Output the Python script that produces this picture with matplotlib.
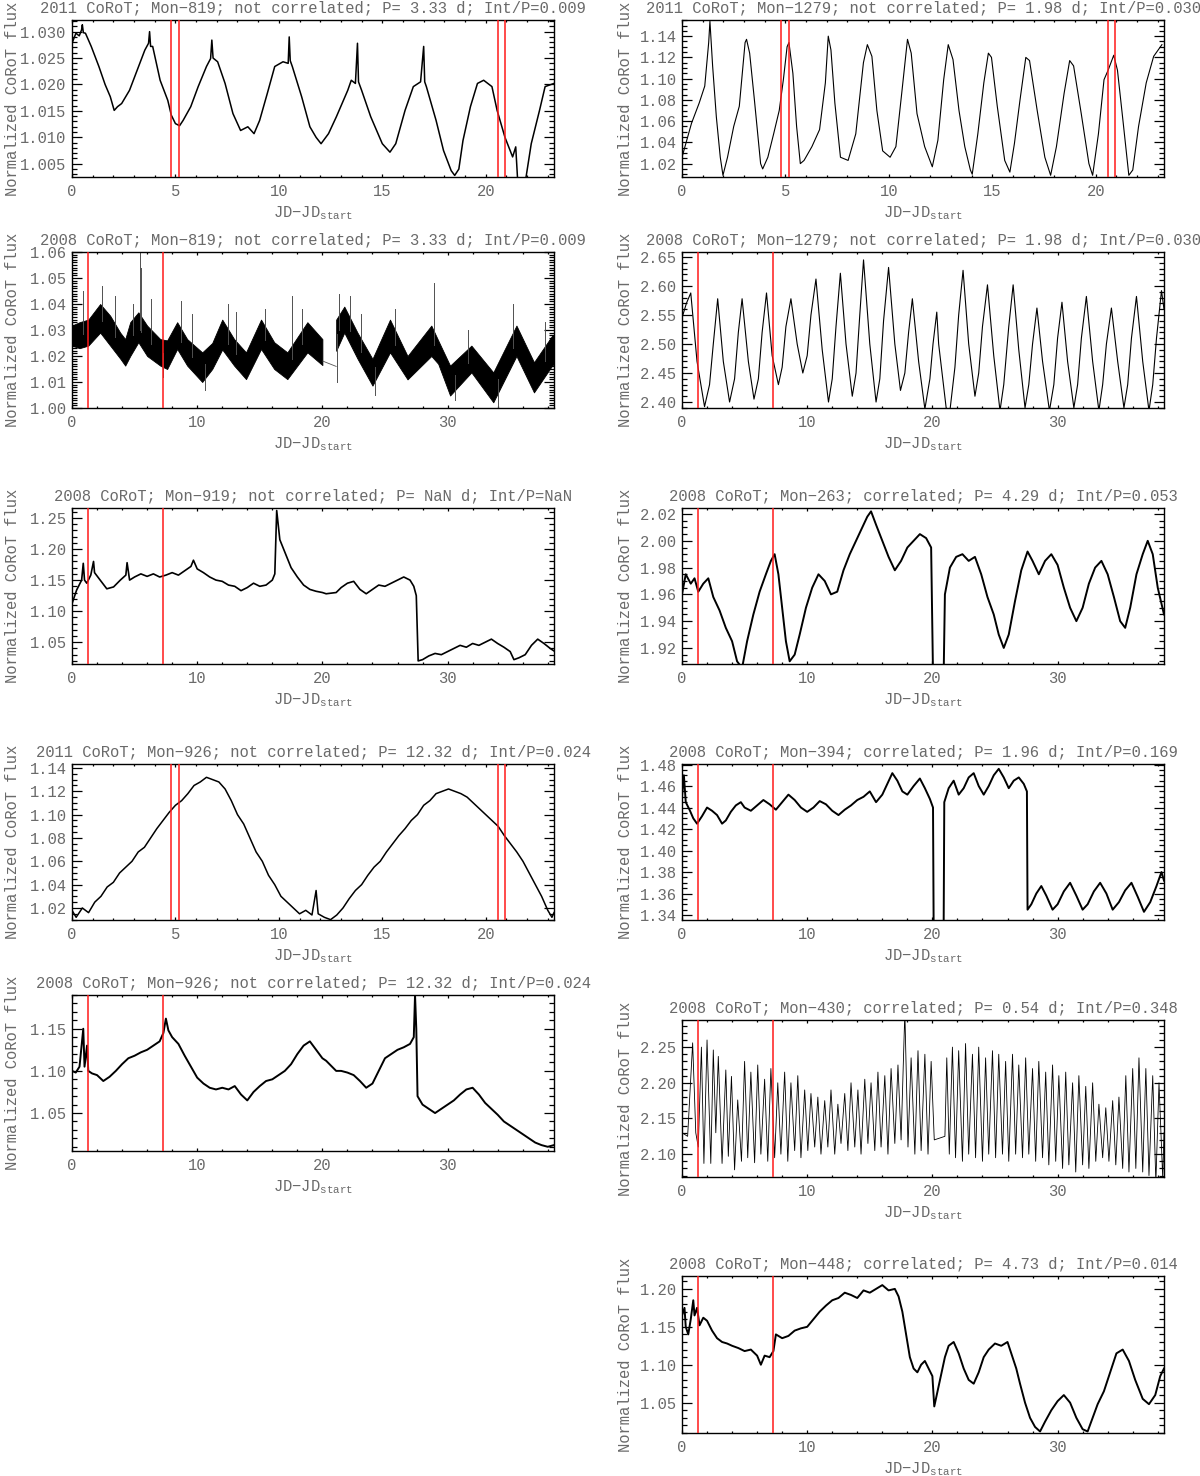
import numpy as np
import matplotlib
matplotlib.use("Agg")
import matplotlib.pyplot as plt
from matplotlib.ticker import MultipleLocator, FormatStrFormatter

FIG_W, FIG_H = 1200, 1476
TXT = '#6a6a6a'
FS = 11.2
FONT = 'Liberation Mono'

plt.rcParams['font.family'] = [FONT, 'DejaVu Sans Mono']
plt.rcParams['mathtext.fontset'] = 'custom'
plt.rcParams['mathtext.rm'] = FONT

# ---- light curves: (JD-JD_start, normalized flux) ----
L1_PTS = [(0.0, 1.0278), (0.19, 1.0297), (0.35, 1.0292), (0.46, 1.0303), (0.5, 1.0313), (0.55, 1.0298),
          (0.65, 1.0297), (0.93, 1.0272), (1.3, 1.0234), (1.6, 1.0200), (1.85, 1.0177), (2.04, 1.0151),
          (2.2, 1.0158), (2.4, 1.0164), (2.78, 1.0189), (3.15, 1.0227), (3.52, 1.0265), (3.7, 1.0278),
          (3.75, 1.0300), (3.8, 1.0272), (3.9, 1.0272), (4.26, 1.0208), (4.63, 1.0170), (4.8, 1.0142),
          (5.0, 1.0126), (5.2, 1.0122), (5.37, 1.0132), (5.74, 1.0158), (6.1, 1.0196), (6.5, 1.0234),
          (6.7, 1.0249), (6.76, 1.0284), (6.82, 1.0250), (7.04, 1.0243), (7.4, 1.0202), (7.78, 1.0145),
          (8.15, 1.0113), (8.5, 1.0120), (8.8, 1.0107), (9.07, 1.0132), (9.44, 1.0183), (9.8, 1.0234),
          (10.2, 1.0243), (10.45, 1.0240), (10.5, 1.0290), (10.55, 1.0245), (10.65, 1.0234), (11.1, 1.0177),
          (11.5, 1.0120), (11.8, 1.0100), (12.04, 1.0088), (12.4, 1.0107), (12.78, 1.0139), (13.33, 1.0189),
          (13.5, 1.0208), (13.7, 1.0202), (13.8, 1.0278), (13.85, 1.0205), (14.0, 1.0189), (14.44, 1.0139),
          (15.0, 1.0088), (15.37, 1.0072), (15.65, 1.0088), (16.1, 1.0151), (16.5, 1.0196), (16.85, 1.0205),
          (17.0, 1.0272), (17.05, 1.0205), (17.13, 1.0196), (17.6, 1.0132), (17.96, 1.0075), (18.33, 1.0037),
          (18.5, 1.0028), (18.7, 1.0040), (18.9, 1.0094), (19.26, 1.0158), (19.6, 1.0202), (19.9, 1.0208),
          (20.3, 1.0196), (20.55, 1.0151), (20.93, 1.0100), (21.3, 1.0063), (21.45, 1.0082), (21.57, 1.0000),
          (21.85, 1.0000), (22.2, 1.0088), (22.6, 1.0151), (22.87, 1.0196), (23.3, 1.0202)]

R1_PTS = [(0.0, 1.026), (0.46, 1.058), (0.83, 1.077), (1.1, 1.093), (1.29, 1.134), (1.35, 1.154),
          (1.48, 1.112), (1.66, 1.064), (1.85, 1.026), (1.98, 1.009), (2.2, 1.026), (2.5, 1.055),
          (2.77, 1.074), (3.05, 1.134), (3.12, 1.137), (3.27, 1.124), (3.5, 1.080), (3.8, 1.020),
          (3.9, 1.015), (4.15, 1.026), (4.43, 1.048), (4.7, 1.070), (4.9, 1.099), (5.08, 1.130),
          (5.17, 1.134), (5.36, 1.105), (5.54, 1.055), (5.72, 1.020), (5.9, 1.023), (6.28, 1.036),
          (6.65, 1.052), (6.93, 1.096), (7.07, 1.140), (7.2, 1.127), (7.39, 1.077), (7.66, 1.026),
          (8.03, 1.023), (8.4, 1.048), (8.77, 1.115), (8.96, 1.132), (9.18, 1.121), (9.42, 1.070),
          (9.7, 1.032), (10.06, 1.026), (10.34, 1.036), (10.62, 1.086), (10.9, 1.137), (11.08, 1.124),
          (11.36, 1.067), (11.73, 1.036), (12.1, 1.017), (12.37, 1.042), (12.65, 1.099), (12.87, 1.132),
          (13.1, 1.118), (13.39, 1.070), (13.67, 1.036), (13.94, 1.014), (14.03, 1.010), (14.3, 1.048),
          (14.59, 1.096), (14.81, 1.124), (14.96, 1.120), (15.24, 1.074), (15.6, 1.023), (15.85, 1.012),
          (16.07, 1.039), (16.34, 1.080), (16.62, 1.120), (16.8, 1.117), (17.17, 1.070), (17.54, 1.026),
          (17.82, 1.009), (18.1, 1.036), (18.47, 1.086), (18.74, 1.117), (18.93, 1.112), (19.3, 1.067),
          (19.67, 1.020), (19.85, 1.009), (20.13, 1.048), (20.4, 1.099), (20.6, 1.108), (20.87, 1.122),
          (21.05, 1.108), (21.33, 1.058), (21.6, 1.009), (21.79, 1.014), (22.07, 1.055), (22.44, 1.096),
          (22.8, 1.121), (23.2, 1.132)]

# 2008 Mon-819 is a dense band: lower / upper envelope plus single spikes
L2_T = [0.0, 0.6, 1.3, 2.25, 3.05, 3.85, 4.25, 4.65, 5.3, 6.0, 7.05, 7.6, 8.4, 9.2, 10.4, 11.2, 12.0,
        12.95, 13.9, 15.1, 16.15, 17.2, 18.8, 20.0]
L2_LO = [1.024, 1.023, 1.024, 1.029, 1.024, 1.019, 1.0163, 1.020, 1.0253, 1.020, 1.0163, 1.015, 1.0227,
         1.0163, 1.010, 1.015, 1.0225, 1.0163, 1.0111, 1.0227, 1.015, 1.0111, 1.0214, 1.0165]
L2_HI = [1.0317, 1.033, 1.034, 1.040, 1.0355, 1.029, 1.0265, 1.033, 1.0368, 1.0317, 1.0265, 1.026,
         1.033, 1.0265, 1.0214, 1.025, 1.034, 1.0265, 1.0214, 1.034, 1.0253, 1.0214, 1.033, 1.0265]
L2B_T = [21.1, 21.75, 22.8, 24.0, 25.4, 26.8, 28.7, 29.25, 30.2, 31.9, 33.65, 35.5, 36.9, 38.35, 38.5]
L2B_LO = [1.022, 1.029, 1.019, 1.0086, 1.0214, 1.011, 1.020, 1.017, 1.0048, 1.0137, 1.0022, 1.020,
          1.006, 1.0163, 1.017]
L2B_HI = [1.034, 1.039, 1.029, 1.0189, 1.034, 1.020, 1.0317, 1.026, 1.0163, 1.024, 1.0137, 1.0317,
          1.0176, 1.0278, 1.028]
L2_GAP = [(20.05, 1.018), (21.1, 1.016)]
L2_SPIKES = [(0.9, 1.045), (2.4, 1.047), (3.4, 1.043), (4.9, 1.040), (5.45, 1.060), (5.55, 1.054),
             (6.3, 1.042), (8.7, 1.041), (9.6, 1.036), (12.5, 1.040), (13.1, 1.037), (15.4, 1.038),
             (17.6, 1.043), (18.4, 1.038), (21.3, 1.044), (22.2, 1.043), (23.1, 1.036), (25.8, 1.038),
             (28.9, 1.048), (31.6, 1.030), (35.2, 1.040), (37.8, 1.033),
             (21.15, 1.010), (7.3, 1.012), (10.6, 1.007), (24.2, 1.005), (30.6, 1.003), (34.0, 1.000)]

R2_PTS = [(0.0, 2.545), (0.35, 2.57), (0.7, 2.588), (1.2, 2.47), (1.8, 2.392), (2.2, 2.43), (2.5, 2.50),
          (2.85, 2.578), (3.3, 2.47), (3.8, 2.40), (4.2, 2.44), (4.5, 2.52), (4.8, 2.578), (5.3, 2.47),
          (5.75, 2.405), (6.1, 2.44), (6.4, 2.52), (6.75, 2.588), (7.2, 2.48), (7.7, 2.43), (8.0, 2.46),
          (8.3, 2.53), (8.7, 2.578), (9.2, 2.50), (9.65, 2.45), (10.0, 2.48), (10.3, 2.55), (10.7, 2.612),
          (11.2, 2.49), (11.7, 2.40), (12.0, 2.44), (12.3, 2.53), (12.65, 2.622), (13.1, 2.50), (13.6, 2.41),
          (13.9, 2.45), (14.2, 2.55), (14.5, 2.645), (15.0, 2.50), (15.5, 2.40), (15.8, 2.44), (16.1, 2.54),
          (16.5, 2.632), (17.0, 2.50), (17.45, 2.42), (17.8, 2.45), (18.1, 2.52), (18.4, 2.578), (18.9, 2.47),
          (19.4, 2.388), (19.8, 2.44), (20.05, 2.50), (20.35, 2.555), (20.5, 2.50), (21.1, 2.39),
          (21.4, 2.385), (21.8, 2.46), (22.1, 2.55), (22.45, 2.627), (22.9, 2.50), (23.4, 2.41), (23.7, 2.45),
          (24.0, 2.53), (24.4, 2.602), (24.9, 2.48), (25.4, 2.385), (25.7, 2.43), (26.1, 2.53), (26.45, 2.602),
          (26.9, 2.49), (27.4, 2.39), (27.7, 2.43), (28.0, 2.50), (28.35, 2.562), (28.8, 2.47), (29.35, 2.385),
          (29.7, 2.43), (30.0, 2.51), (30.35, 2.572), (30.8, 2.47), (31.3, 2.39), (31.6, 2.43), (31.9, 2.51),
          (32.3, 2.582), (32.8, 2.47), (33.3, 2.385), (33.6, 2.43), (33.9, 2.50), (34.3, 2.562), (34.8, 2.47),
          (35.3, 2.39), (35.6, 2.43), (35.9, 2.51), (36.3, 2.582), (36.8, 2.47), (37.3, 2.385), (37.6, 2.43),
          (37.9, 2.51), (38.3, 2.592), (38.5, 2.56)]

L3_PTS = [(0.0, 1.112), (0.37, 1.134), (0.77, 1.150), (0.9, 1.177), (1.0, 1.150), (1.18, 1.145),
          (1.5, 1.158), (1.72, 1.180), (1.8, 1.162), (2.25, 1.150), (2.78, 1.136), (3.32, 1.139),
          (3.86, 1.150), (4.3, 1.158), (4.4, 1.178), (4.6, 1.150), (5.0, 1.155), (5.5, 1.160), (6.0, 1.156),
          (6.5, 1.160), (7.0, 1.155), (7.5, 1.158), (8.0, 1.162), (8.5, 1.158), (9.0, 1.165), (9.5, 1.172),
          (9.7, 1.182), (10.0, 1.168), (10.5, 1.162), (11.0, 1.155), (11.5, 1.150), (12.0, 1.148),
          (12.5, 1.142), (13.0, 1.140), (13.5, 1.133), (14.0, 1.138), (14.5, 1.145), (15.0, 1.140),
          (15.5, 1.142), (16.0, 1.150), (16.2, 1.160), (16.35, 1.262), (16.6, 1.215), (17.0, 1.195),
          (17.5, 1.170), (18.0, 1.155), (18.5, 1.142), (19.0, 1.135), (19.5, 1.132), (20.0, 1.130),
          (20.3, 1.128), (21.1, 1.130), (21.5, 1.138), (22.0, 1.145), (22.5, 1.148), (23.0, 1.135),
          (23.5, 1.128), (24.0, 1.135), (24.5, 1.142), (25.0, 1.140), (25.5, 1.145), (26.0, 1.150),
          (26.5, 1.155), (27.0, 1.150), (27.3, 1.140), (27.5, 1.125), (27.65, 1.020), (28.0, 1.022),
          (28.5, 1.028), (29.0, 1.032), (29.5, 1.030), (30.0, 1.035), (30.5, 1.040), (31.0, 1.045),
          (31.5, 1.042), (32.0, 1.048), (32.5, 1.045), (33.0, 1.050), (33.5, 1.055), (34.0, 1.048),
          (34.5, 1.042), (35.0, 1.035), (35.3, 1.022), (35.7, 1.025), (36.2, 1.030), (36.7, 1.045),
          (37.2, 1.055), (37.7, 1.048), (38.2, 1.040), (38.5, 1.036)]

R3_PTS = [(0.0, 1.960), (0.3, 1.975), (0.7, 1.968), (1.0, 1.972), (1.3, 1.962), (1.7, 1.968), (2.1, 1.972),
          (2.5, 1.958), (3.0, 1.948), (3.5, 1.935), (4.0, 1.925), (4.4, 1.910), (4.8, 1.905), (5.2, 1.925),
          (5.7, 1.945), (6.2, 1.962), (6.7, 1.975), (7.1, 1.985), (7.4, 1.990), (7.7, 1.975), (8.0, 1.950),
          (8.3, 1.925), (8.6, 1.910), (9.0, 1.915), (9.4, 1.930), (9.9, 1.950), (10.4, 1.965), (10.9, 1.975),
          (11.4, 1.970), (11.9, 1.960), (12.4, 1.962), (12.9, 1.978), (13.4, 1.990), (13.9, 2.000),
          (14.4, 2.010), (14.8, 2.018), (15.1, 2.022), (15.5, 2.012), (16.0, 2.000), (16.5, 1.988),
          (17.0, 1.978), (17.5, 1.985), (18.0, 1.995), (18.5, 2.000), (19.0, 2.005), (19.5, 2.002),
          (19.9, 1.995), (20.05, 1.900), (20.9, 1.900), (21.0, 1.960), (21.4, 1.980), (21.9, 1.988),
          (22.4, 1.990), (22.9, 1.985), (23.4, 1.988), (23.9, 1.975), (24.4, 1.958), (24.9, 1.945),
          (25.3, 1.930), (25.7, 1.920), (26.1, 1.930), (26.6, 1.955), (27.1, 1.978), (27.6, 1.992),
          (28.0, 1.985), (28.5, 1.975), (29.0, 1.985), (29.5, 1.990), (30.0, 1.982), (30.5, 1.965),
          (31.0, 1.950), (31.5, 1.940), (32.0, 1.950), (32.5, 1.968), (33.0, 1.980), (33.5, 1.985),
          (34.0, 1.975), (34.5, 1.958), (35.0, 1.940), (35.4, 1.935), (35.8, 1.950), (36.3, 1.975),
          (36.8, 1.990), (37.2, 2.000), (37.6, 1.990), (38.0, 1.965), (38.5, 1.945)]

L4_PTS = [(0.0, 1.018), (0.2, 1.012), (0.5, 1.020), (0.8, 1.016), (1.1, 1.025), (1.4, 1.030), (1.7, 1.038),
          (2.0, 1.042), (2.3, 1.050), (2.6, 1.055), (2.9, 1.060), (3.2, 1.068), (3.5, 1.072), (3.8, 1.080),
          (4.1, 1.088), (4.4, 1.095), (4.7, 1.102), (5.0, 1.108), (5.3, 1.112), (5.6, 1.118), (5.9, 1.125),
          (6.2, 1.128), (6.5, 1.132), (6.8, 1.130), (7.1, 1.128), (7.4, 1.122), (7.7, 1.112), (8.0, 1.100),
          (8.3, 1.092), (8.6, 1.080), (8.9, 1.068), (9.2, 1.060), (9.5, 1.048), (9.8, 1.040), (10.1, 1.030),
          (10.4, 1.025), (10.7, 1.020), (11.0, 1.015), (11.3, 1.018), (11.6, 1.014), (11.8, 1.035),
          (11.9, 1.015), (12.2, 1.012), (12.5, 1.010), (12.8, 1.014), (13.1, 1.020), (13.4, 1.028),
          (13.7, 1.035), (14.0, 1.040), (14.3, 1.048), (14.6, 1.055), (14.9, 1.060), (15.2, 1.068),
          (15.5, 1.075), (15.8, 1.082), (16.1, 1.088), (16.4, 1.095), (16.7, 1.100), (17.0, 1.108),
          (17.3, 1.112), (17.6, 1.118), (17.9, 1.120), (18.2, 1.122), (18.5, 1.120), (18.8, 1.118),
          (19.1, 1.115), (19.4, 1.110), (19.7, 1.105), (20.0, 1.100), (20.3, 1.095), (20.6, 1.090),
          (20.9, 1.082), (21.2, 1.075), (21.5, 1.068), (21.8, 1.060), (22.1, 1.050), (22.4, 1.040),
          (22.7, 1.030), (23.0, 1.018), (23.2, 1.012), (23.3, 1.016)]

R4_PTS = [(0.0, 1.450), (0.15, 1.470), (0.3, 1.445), (0.6, 1.438), (0.9, 1.430), (1.2, 1.425), (1.6, 1.432),
          (2.0, 1.440), (2.4, 1.437), (2.8, 1.433), (3.2, 1.425), (3.5, 1.428), (3.9, 1.436), (4.3, 1.442),
          (4.7, 1.445), (5.0, 1.440), (5.5, 1.437), (6.0, 1.442), (6.5, 1.447), (7.0, 1.443), (7.5, 1.438),
          (8.0, 1.445), (8.5, 1.452), (9.0, 1.447), (9.5, 1.440), (10.0, 1.436), (10.5, 1.440), (11.0, 1.446),
          (11.5, 1.443), (12.0, 1.437), (12.5, 1.433), (13.0, 1.438), (13.5, 1.442), (14.0, 1.447),
          (14.5, 1.450), (15.0, 1.455), (15.5, 1.445), (16.0, 1.452), (16.4, 1.462), (16.8, 1.472),
          (17.2, 1.465), (17.6, 1.455), (18.0, 1.452), (18.5, 1.460), (19.0, 1.467), (19.4, 1.458),
          (19.8, 1.448), (20.05, 1.440), (20.1, 1.330), (20.9, 1.330), (20.95, 1.445), (21.3, 1.458),
          (21.7, 1.465), (22.1, 1.452), (22.5, 1.458), (22.9, 1.468), (23.3, 1.472), (23.7, 1.460),
          (24.1, 1.452), (24.5, 1.460), (24.9, 1.470), (25.3, 1.476), (25.7, 1.468), (26.1, 1.458),
          (26.5, 1.465), (26.9, 1.468), (27.3, 1.462), (27.55, 1.455), (27.6, 1.345), (27.9, 1.350),
          (28.3, 1.360), (28.7, 1.367), (29.1, 1.358), (29.6, 1.345), (30.0, 1.350), (30.5, 1.362),
          (31.0, 1.370), (31.5, 1.358), (32.0, 1.345), (32.4, 1.350), (32.9, 1.362), (33.4, 1.370),
          (33.9, 1.360), (34.4, 1.345), (34.9, 1.352), (35.4, 1.363), (35.9, 1.370), (36.4, 1.357),
          (36.9, 1.343), (37.4, 1.352), (37.9, 1.367), (38.3, 1.380), (38.5, 1.372)]

L5_PTS = [(0.0, 1.100), (0.3, 1.098), (0.6, 1.105), (0.9, 1.150), (1.0, 1.105), (1.2, 1.130), (1.3, 1.100),
          (1.6, 1.097), (2.0, 1.095), (2.5, 1.088), (3.0, 1.093), (3.5, 1.100), (4.0, 1.108), (4.5, 1.115),
          (5.0, 1.118), (5.5, 1.122), (6.0, 1.125), (6.5, 1.130), (7.0, 1.135), (7.3, 1.145), (7.5, 1.162),
          (7.7, 1.148), (8.0, 1.140), (8.5, 1.132), (9.0, 1.118), (9.5, 1.105), (10.0, 1.092), (10.5, 1.085),
          (11.0, 1.080), (11.5, 1.078), (12.0, 1.080), (12.5, 1.078), (13.0, 1.082), (13.5, 1.072),
          (14.0, 1.065), (14.5, 1.075), (15.0, 1.082), (15.5, 1.088), (16.0, 1.090), (16.5, 1.095),
          (17.0, 1.100), (17.5, 1.108), (18.0, 1.120), (18.5, 1.130), (19.0, 1.135), (19.5, 1.125),
          (20.0, 1.115), (20.3, 1.112), (21.1, 1.100), (21.5, 1.100), (22.0, 1.098), (22.5, 1.095),
          (23.0, 1.088), (23.5, 1.080), (24.0, 1.085), (24.5, 1.100), (25.0, 1.115), (25.5, 1.120),
          (26.0, 1.125), (26.5, 1.128), (27.0, 1.132), (27.3, 1.140), (27.4, 1.190), (27.5, 1.150),
          (27.6, 1.070), (28.0, 1.060), (28.5, 1.055), (29.0, 1.050), (29.5, 1.055), (30.0, 1.060),
          (30.5, 1.065), (31.0, 1.072), (31.5, 1.078), (32.0, 1.080), (32.5, 1.072), (33.0, 1.062),
          (33.5, 1.055), (34.0, 1.048), (34.5, 1.040), (35.0, 1.035), (35.5, 1.030), (36.0, 1.025),
          (36.5, 1.020), (37.0, 1.015), (37.5, 1.012), (38.0, 1.010), (38.5, 1.012)]

R5_PTS = [(0.0, 2.13), (0.45, 2.125), (0.85, 2.256), (1.1, 2.13), (1.3, 2.11), (1.55, 2.25), (1.75, 2.087),
          (2.0, 2.26), (2.3, 2.087), (2.5, 2.246), (2.7, 2.13), (2.9, 2.237), (3.2, 2.087), (3.5, 2.218),
          (3.7, 2.097), (3.95, 2.209), (4.2, 2.078), (4.45, 2.176), (4.75, 2.09), (5.0, 2.23), (5.25, 2.095),
          (5.5, 2.215), (5.8, 2.088), (6.05, 2.225), (6.3, 2.1), (6.6, 2.205), (6.85, 2.09), (7.1, 2.22),
          (7.4, 2.095), (7.65, 2.2), (7.9, 2.1), (8.2, 2.215), (8.45, 2.09), (8.7, 2.2), (9.0, 2.105),
          (9.25, 2.21), (9.5, 2.095), (9.8, 2.19), (10.05, 2.105), (10.3, 2.185), (10.6, 2.11), (10.85, 2.18),
          (11.1, 2.1), (11.4, 2.175), (11.65, 2.11), (11.9, 2.19), (12.2, 2.1), (12.45, 2.17), (12.7, 2.115),
          (13.0, 2.185), (13.25, 2.105), (13.5, 2.2), (13.8, 2.11), (14.05, 2.19), (14.3, 2.1), (14.6, 2.205),
          (14.85, 2.115), (15.1, 2.2), (15.4, 2.105), (15.65, 2.215), (15.9, 2.11), (16.2, 2.21), (16.45, 2.1),
          (16.7, 2.22), (17.0, 2.115), (17.25, 2.225), (17.5, 2.12), (17.8, 2.30), (18.05, 2.11), (18.3, 2.235),
          (18.6, 2.1), (18.85, 2.245), (19.1, 2.105), (19.4, 2.24), (19.65, 2.1), (19.9, 2.23), (20.15, 2.12),
          (21.0, 2.125), (21.15, 2.235), (21.35, 2.1), (21.6, 2.25), (21.85, 2.095), (22.1, 2.245), (22.4, 2.09),
          (22.65, 2.255), (22.9, 2.1), (23.2, 2.24), (23.45, 2.095), (23.7, 2.25), (24.0, 2.09), (24.25, 2.235),
          (24.5, 2.1), (24.8, 2.245), (25.05, 2.095), (25.3, 2.24), (25.6, 2.1), (25.85, 2.23), (26.1, 2.09),
          (26.4, 2.24), (26.65, 2.1), (26.9, 2.225), (27.2, 2.095), (27.45, 2.235), (27.7, 2.1), (28.0, 2.22),
          (28.25, 2.09), (28.5, 2.23), (28.8, 2.095), (29.05, 2.215), (29.3, 2.085), (29.6, 2.225), (29.85, 2.09),
          (30.1, 2.21), (30.4, 2.08), (30.65, 2.215), (30.9, 2.085), (31.2, 2.2), (31.45, 2.075), (31.7, 2.21),
          (32.0, 2.085), (32.25, 2.195), (32.5, 2.08), (32.8, 2.2), (33.05, 2.09), (33.3, 2.17), (33.6, 2.095),
          (33.85, 2.165), (34.1, 2.09), (34.4, 2.175), (34.65, 2.085), (34.9, 2.18), (35.2, 2.08), (35.45, 2.21),
          (35.7, 2.075), (36.0, 2.22), (36.25, 2.08), (36.5, 2.235), (36.8, 2.075), (37.05, 2.22), (37.3, 2.07),
          (37.6, 2.21), (37.85, 2.06), (38.1, 2.2), (38.4, 2.065), (38.5, 2.13)]

R6_PTS = [(0.0, 1.165), (0.2, 1.175), (0.3, 1.150), (0.5, 1.140), (0.7, 1.160), (0.9, 1.185), (1.0, 1.165),
          (1.2, 1.175), (1.4, 1.152), (1.7, 1.162), (2.0, 1.158), (2.4, 1.145), (2.8, 1.135), (3.2, 1.130),
          (3.6, 1.128), (4.0, 1.125), (4.5, 1.122), (5.0, 1.118), (5.5, 1.120), (6.0, 1.112), (6.3, 1.100),
          (6.6, 1.112), (7.0, 1.110), (7.3, 1.118), (7.5, 1.140), (8.0, 1.135), (8.5, 1.138), (9.0, 1.145),
          (9.5, 1.148), (10.0, 1.150), (10.5, 1.160), (11.0, 1.170), (11.5, 1.178), (12.0, 1.185),
          (12.5, 1.188), (13.0, 1.195), (13.5, 1.192), (14.0, 1.188), (14.5, 1.198), (15.0, 1.195),
          (15.5, 1.200), (16.0, 1.205), (16.5, 1.198), (17.0, 1.200), (17.3, 1.190), (17.6, 1.170),
          (17.9, 1.140), (18.2, 1.110), (18.5, 1.095), (18.8, 1.090), (19.1, 1.100), (19.4, 1.105),
          (19.7, 1.095), (20.0, 1.085), (20.15, 1.045), (21.0, 1.110), (21.3, 1.125), (21.7, 1.130),
          (22.1, 1.115), (22.5, 1.095), (22.9, 1.080), (23.3, 1.075), (23.7, 1.090), (24.1, 1.110),
          (24.5, 1.120), (25.0, 1.128), (25.5, 1.125), (26.0, 1.130), (26.3, 1.115), (26.7, 1.095),
          (27.0, 1.075), (27.4, 1.050), (27.8, 1.030), (28.2, 1.018), (28.6, 1.012), (29.0, 1.025),
          (29.5, 1.040), (30.0, 1.052), (30.5, 1.060), (31.0, 1.050), (31.5, 1.030), (32.0, 1.015),
          (32.4, 1.012), (32.8, 1.030), (33.2, 1.048), (33.7, 1.065), (34.2, 1.090), (34.7, 1.115),
          (35.2, 1.120), (35.7, 1.105), (36.2, 1.080), (36.8, 1.055), (37.3, 1.048), (37.8, 1.060),
          (38.2, 1.085), (38.5, 1.095)]

RED_2011 = [4.8, 5.15, 20.6, 20.95]
RED_2008 = [1.31, 7.25]

TITLES = {
    'L1': '2011 CoRoT; Mon\u2212819; not correlated; P= 3.33 d; Int/P=0.009',
    'R1': '2011 CoRoT; Mon\u22121279; not correlated; P= 1.98 d; Int/P=0.030',
    'L2': '2008 CoRoT; Mon\u2212819; not correlated; P= 3.33 d; Int/P=0.009',
    'R2': '2008 CoRoT; Mon\u22121279; not correlated; P= 1.98 d; Int/P=0.030',
    'L3': '2008 CoRoT; Mon\u2212919; not correlated; P= NaN d; Int/P=NaN',
    'R3': '2008 CoRoT; Mon\u2212263; correlated; P= 4.29 d; Int/P=0.053',
    'L4': '2011 CoRoT; Mon\u2212926; not correlated; P= 12.32 d; Int/P=0.024',
    'R4': '2008 CoRoT; Mon\u2212394; correlated; P= 1.96 d; Int/P=0.169',
    'L5': '2008 CoRoT; Mon\u2212926; not correlated; P= 12.32 d; Int/P=0.024',
    'R5': '2008 CoRoT; Mon\u2212430; correlated; P= 0.54 d; Int/P=0.348',
    'R6': '2008 CoRoT; Mon\u2212448; correlated; P= 4.73 d; Int/P=0.014',
}

fig = plt.figure(figsize=(FIG_W / 100, FIG_H / 100), dpi=100)


def make_axes(box, xmax, ylim, ystep, ysub, yfmt, title, reds, ylab_x):
    l, t, r, b = box
    h = b - t
    ax = fig.add_axes([l / FIG_W, 1 - b / FIG_H, (r - l) / FIG_W, h / FIG_H])
    ax.set_xlim(0, xmax)
    ax.set_ylim(*ylim)
    xstep, xsub = (5, 1) if xmax < 30 else (10, 2)
    ax.xaxis.set_major_locator(MultipleLocator(xstep))
    ax.xaxis.set_minor_locator(MultipleLocator(xsub))
    ax.yaxis.set_major_locator(MultipleLocator(ystep))
    ax.yaxis.set_minor_locator(MultipleLocator(ysub))
    ax.yaxis.set_major_formatter(FormatStrFormatter(yfmt))
    ax.tick_params(which='both', direction='in', top=True, right=True, color='black',
                   labelcolor=TXT, labelsize=FS, width=0.9)
    ax.tick_params(axis='y', which='major', length=7, pad=4)
    ax.tick_params(axis='y', which='minor', length=3.5)
    ax.tick_params(axis='x', which='major', length=2.4, pad=5)
    ax.tick_params(axis='x', which='minor', length=1.2)
    for sp in ax.spines.values():
        sp.set_linewidth(1.0)
    for xr in reds:
        ax.axvline(xr, color='#ff1a1a', lw=1.1, zorder=3)
    ax.text(0.5, 1 + 12 / h, title, transform=ax.transAxes, ha='center', va='center',
            color=TXT, fontsize=FS, clip_on=False)
    ax.text(0.5, -36 / h, r'JD$-$JD$_{\rm start}$', transform=ax.transAxes, ha='center',
            va='center', color=TXT, fontsize=FS)
    fig.text(ylab_x / FIG_W, 1 - (t + b) / 2 / FIG_H, 'Normalized CoRoT flux', rotation=90,
             ha='center', va='center', color=TXT, fontsize=FS)
    return ax


def draw_curve(ax, pts, lw):
    arr = np.array(pts)
    ax.plot(arr[:, 0], arr[:, 1], color='black', lw=lw, zorder=2)


LX, RX = (72, 554), (682, 1164)

ax = make_axes((LX[0], 20, LX[1], 177), 23.3, (1.0025, 1.0322), 0.005, 0.001, '%.3f', TITLES['L1'], RED_2011, 13)
draw_curve(ax, L1_PTS, 1.1)
ax = make_axes((RX[0], 20, RX[1], 177), 23.3, (1.0074, 1.1552), 0.02, 0.005, '%.2f', TITLES['R1'], RED_2011, 625)
draw_curve(ax, R1_PTS, 0.8)

ax = make_axes((LX[0], 252, LX[1], 408), 38.5, (1.000, 1.060), 0.01, 0.001, '%.2f', TITLES['L2'], RED_2008, 13)
ax.fill_between(L2_T, L2_LO, L2_HI, color='black', lw=0.6, zorder=2)
ax.fill_between(L2B_T, L2B_LO, L2B_HI, color='black', lw=0.6, zorder=2)
gap = np.array(L2_GAP)
ax.plot(gap[:, 0], gap[:, 1], color='#555555', lw=0.6)
band_t = L2_T + L2B_T
band_mid = [0.5 * (a + b) for a, b in zip(L2_LO + L2B_LO, L2_HI + L2B_HI)]
for ts, fs in L2_SPIKES:
    ax.plot([ts, ts], [np.interp(ts, band_t, band_mid), fs], color='#505050', lw=0.7, zorder=2)
ax = make_axes((RX[0], 252, RX[1], 408), 38.5, (2.3897, 2.6586), 0.05, 0.01, '%.2f', TITLES['R2'], RED_2008, 625)
draw_curve(ax, R2_PTS, 0.8)

ax = make_axes((LX[0], 508, LX[1], 664), 38.5, (1.015, 1.266), 0.05, 0.01, '%.2f', TITLES['L3'], RED_2008, 13)
draw_curve(ax, L3_PTS, 1.2)
ax = make_axes((RX[0], 508, RX[1], 664), 38.5, (1.908, 2.0245), 0.02, 0.005, '%.2f', TITLES['R3'], RED_2008, 625)
draw_curve(ax, R3_PTS, 1.4)

ax = make_axes((LX[0], 764, LX[1], 920), 23.3, (1.0097, 1.1434), 0.02, 0.005, '%.2f', TITLES['L4'], RED_2011, 13)
draw_curve(ax, L4_PTS, 1.1)
ax = make_axes((RX[0], 764, RX[1], 920), 38.5, (1.3354, 1.4805), 0.02, 0.005, '%.2f', TITLES['R4'], RED_2008, 625)
draw_curve(ax, R4_PTS, 1.4)

ax = make_axes((LX[0], 995, LX[1], 1151), 38.5, (1.005, 1.19), 0.05, 0.01, '%.2f', TITLES['L5'], RED_2008, 13)
draw_curve(ax, L5_PTS, 1.4)
ax = make_axes((RX[0], 1020, RX[1], 1177), 38.5, (2.068, 2.288), 0.05, 0.01, '%.2f', TITLES['R5'], RED_2008, 625)
draw_curve(ax, R5_PTS, 0.6)
ax = make_axes((RX[0], 1276, RX[1], 1433), 38.5, (1.010, 1.217), 0.05, 0.01, '%.2f', TITLES['R6'], RED_2008, 625)
draw_curve(ax, R6_PTS, 1.4)

fig.savefig('out.png', dpi=100)
